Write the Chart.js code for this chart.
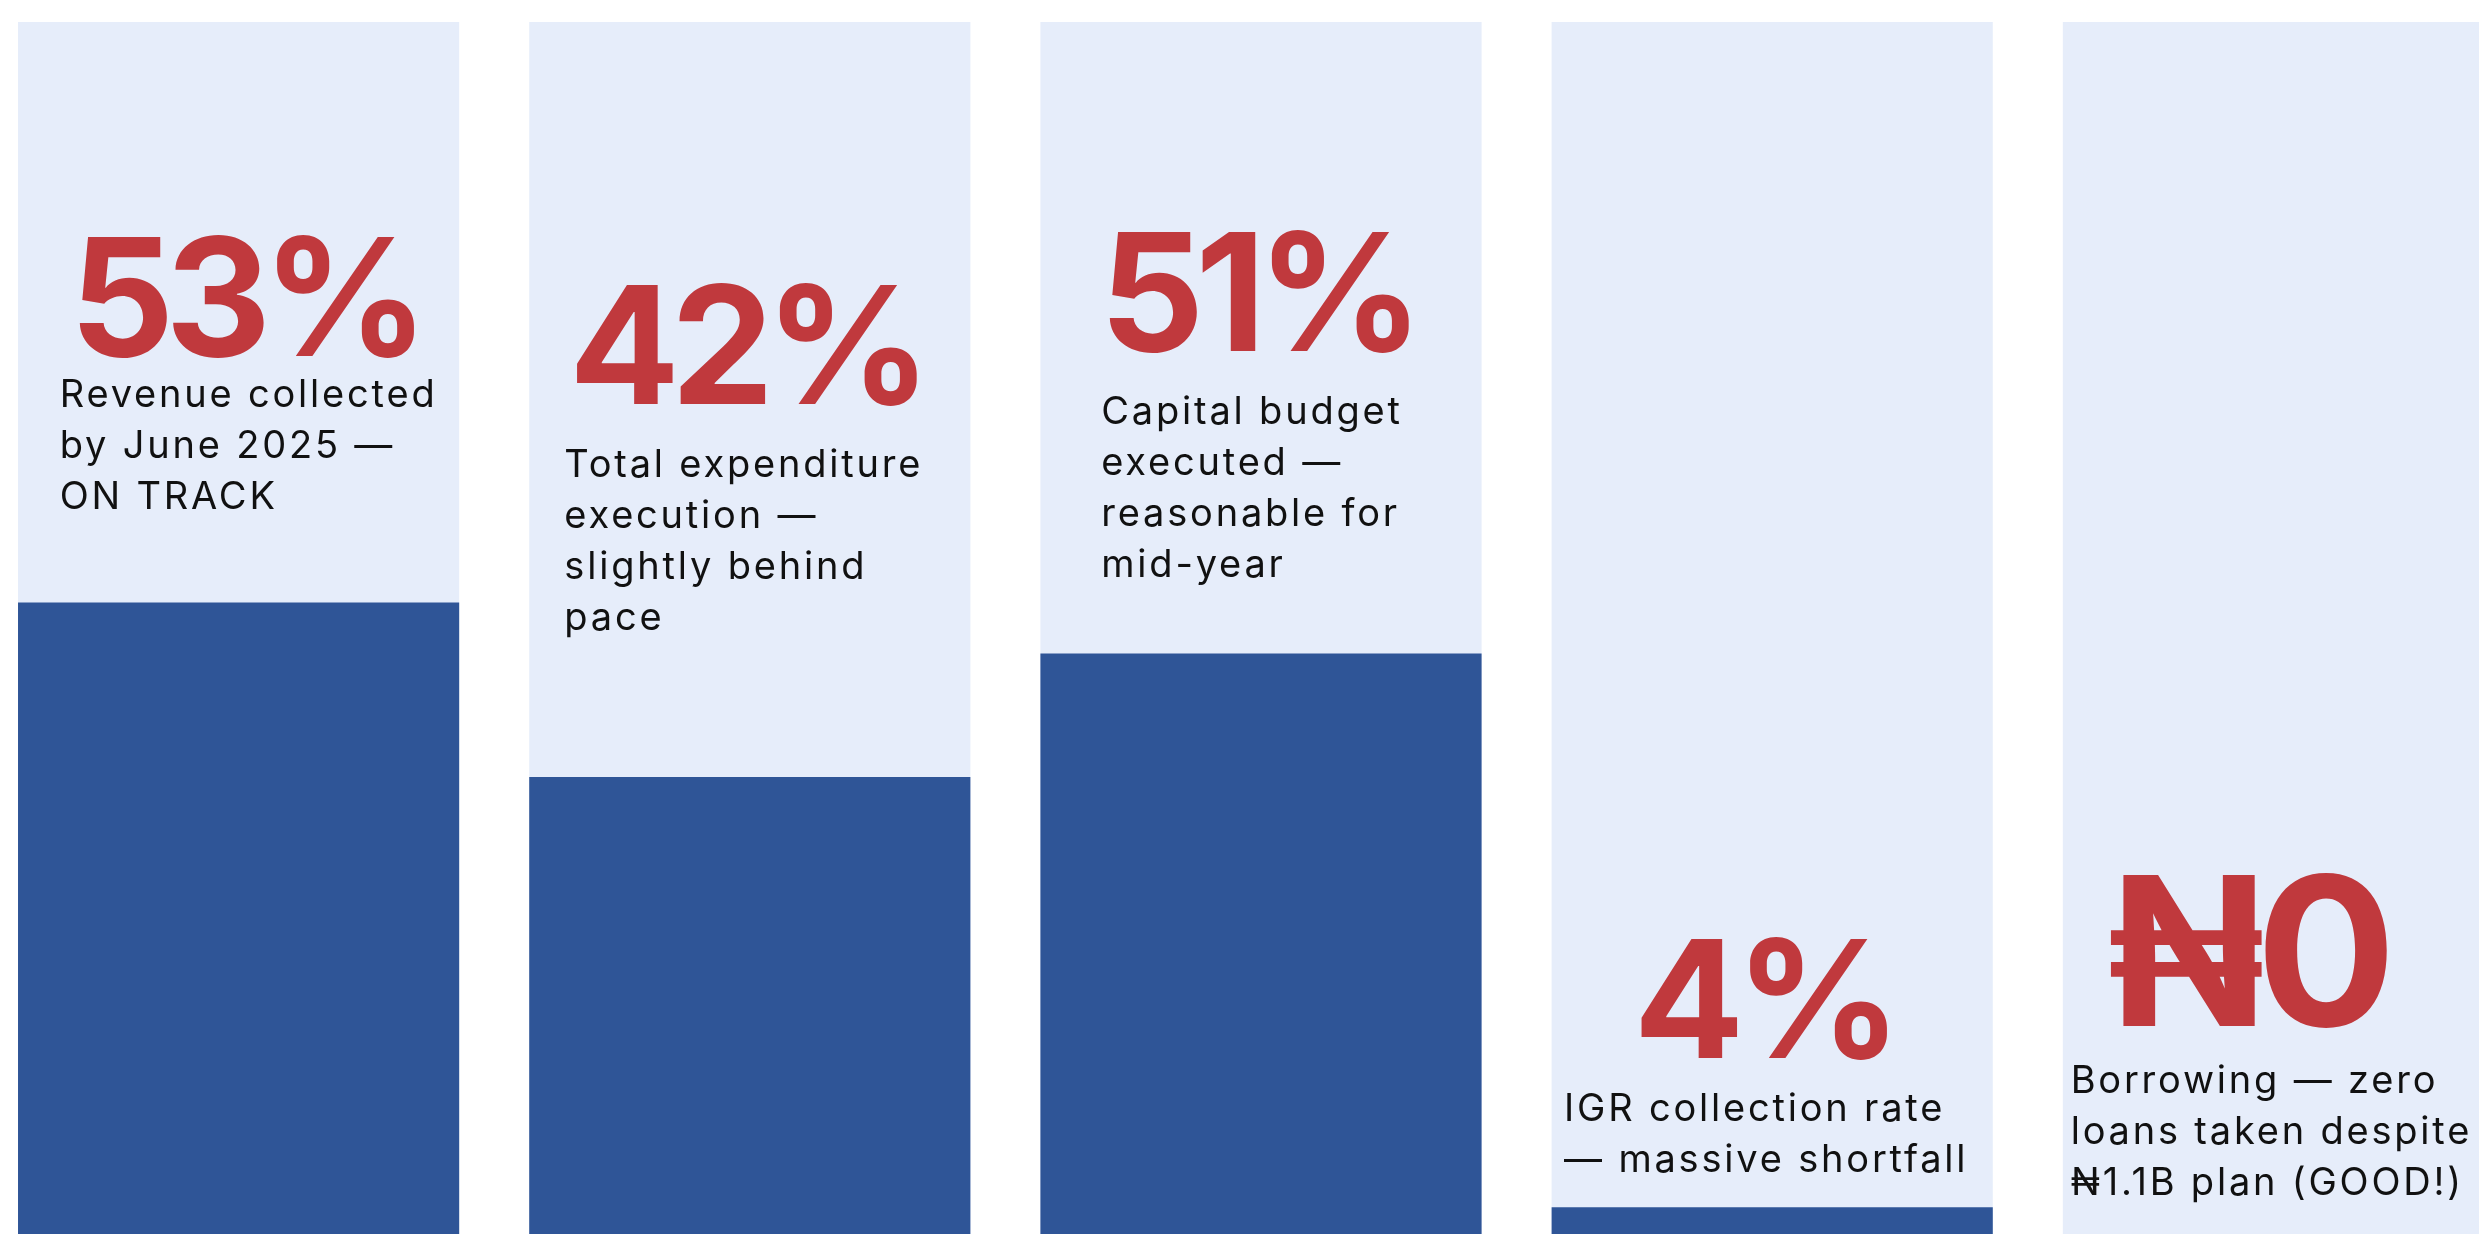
<!DOCTYPE html>
<html>
<head>
<meta charset="utf-8">
<script src="https://cdn.jsdelivr.net/npm/chart.js@4.4.0/dist/chart.umd.min.js"></script>
<style>
  html, body { margin: 0; padding: 0; background: #ffffff; overflow: hidden; }
  #wrap { position: relative; width: 2479px; height: 1234px; overflow: hidden; }
  #myChart { position: absolute; left: -17px; top: 0; }
</style>
</head>
<body>
<div id="wrap">
  <canvas id="myChart" width="2556" height="1234"></canvas>
</div>
<script>
// categories + values
const categories = ['Revenue', 'Total expenditure', 'Capital budget', 'IGR', 'Borrowing'];
const executed = [52.1, 37.7, 47.9, 2.2, 0];
const track = [100, 100, 100, 100, 100];

// big red figures and the captions under them
const bigLabels = ['53%', '42%', '51%', '4%', '\u20A60'];
const captions = [
  ['Revenue collected', 'by June 2025 \u2014', 'ON TRACK'],
  ['Total expenditure', 'execution \u2014', 'slightly behind', 'pace'],
  ['Capital budget', 'executed \u2014', 'reasonable for', 'mid-year'],
  ['IGR collection rate', '\u2014 massive shortfall'],
  ['Borrowing \u2014 zero', 'loans taken despite', '\u20A61.1B plan (GOOD!)']
];

// where the text sits (px below the top of the chart area / px off the bar centre)
const bigBaseline = [334, 382, 329, 1036, 1004];
const captionBaseline = [385, 455, 402, 1099, 1071];
const bigSize = [164, 164, 164, 164, 208];
const bigShift = [10, 0, 0, -5, -32];
const captionShift = [10, -6, -9, -6, -12];

const textPlugin = {
  id: 'bigText',
  afterDatasetsDraw(chart) {
    const ctx = chart.ctx;
    const top = chart.chartArea.top;
    const meta = chart.getDatasetMeta(0);
    meta.data.forEach((bar, i) => {
      ctx.save();
      ctx.fillStyle = '#C0393D';
      ctx.font = 'bold ' + bigSize[i] + 'px Inter';
      ctx.letterSpacing = '-9px';
      ctx.textAlign = 'center';
      ctx.textBaseline = 'alphabetic';
      ctx.fillText(bigLabels[i], bar.x + bigShift[i] - 4, top + bigBaseline[i]);

      ctx.fillStyle = '#111111';
      ctx.font = '38px Inter';
      ctx.letterSpacing = '2.8px';
      ctx.textAlign = 'left';
      let w = 0;
      captions[i].forEach(line => { w = Math.max(w, ctx.measureText(line).width); });
      const left = bar.x + captionShift[i] - w / 2;
      captions[i].forEach((line, j) => {
        ctx.fillText(line, left, top + captionBaseline[i] + j * 51);
      });
      ctx.restore();
    });
  }
};

var ctx = document.getElementById('myChart').getContext('2d');
var chart = new Chart(ctx, {
  type: 'bar',
  data: {
    labels: categories,
    datasets: [{
      label: 'Executed',
      data: executed,
      backgroundColor: '#2F5597',
      borderWidth: 0,
      order: 1
    }, {
      label: 'Track',
      data: track,
      backgroundColor: '#E6EDFA',
      borderWidth: 0,
      order: 2
    }]
  },
  options: {
    responsive: false,
    animation: false,
    devicePixelRatio: 1,
    layout: { padding: { top: 22, left: 0, right: 0, bottom: 0 } },
    datasets: {
      bar: { grouped: false, categoryPercentage: 1, barPercentage: 0.863 }
    },
    plugins: {
      legend: { display: false },
      tooltip: { enabled: false }
    },
    scales: {
      x: { display: false },
      y: { display: false, min: 0, max: 100 }
    }
  },
  plugins: [textPlugin]
});
</script>
</body>
</html>
